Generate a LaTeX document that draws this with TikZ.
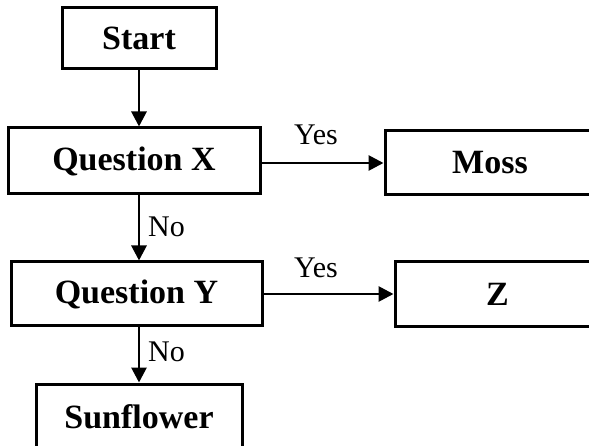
\documentclass[tikz,border=0pt]{standalone}
\usepackage{fontspec}
\setmainfont{Liberation Serif}
\usetikzlibrary{arrows.meta}
\begin{document}
\begin{tikzpicture}[x=1pt,y=-1pt,
  box/.style={draw, line width=3pt, rectangle, inner sep=0pt,
    font=\fontsize{34}{37}\selectfont\bfseries},
  arr/.style={line width=2.8pt, -{Triangle[length=15pt,width=15pt]}},
  lbl/.style={font=\fontsize{30}{33}\selectfont, inner sep=0pt}]
\useasboundingbox (0,0) rectangle (589,446);
\clip (0,0) rectangle (589,446);
\node[box, minimum width=154pt, minimum height=61pt] (start) at (139,38.5) {Start};
\node[box, minimum width=252pt, minimum height=66pt] (qx) at (134,161) {Question X};
\node[box, minimum width=210pt, minimum height=64pt] (moss) at (490,163) {Moss};
\node[box, minimum width=251pt, minimum height=64pt] (qy) at (136.5,294) {Question Y};
\node[box, minimum width=205pt, minimum height=65pt] (z) at (497.5,294.5) {Z};
\node[box, minimum width=206pt, minimum height=66pt] (sun) at (139,417) {Sunflower};
\draw[arr] (start.south) -- (start.south |- qx.north);
\draw[arr] (qx.south -| start.south) -- (start.south |- qy.north);
\draw[arr] (qy.south -| start.south) -- (start.south |- sun.north);
\draw[arr] (moss.west -| qx.east) -- (moss.west);
\draw[arr] (qy.east) -- (qy.east -| z.west);
\node[lbl] (yes1) at (316,135) {Yes};
\node[lbl] (yes2) at (316,268) {Yes};
\node[lbl, anchor=west] (no1) at (148,227) {No};
\node[lbl, anchor=west] (no2) at (148,352) {No};
\end{tikzpicture}
\end{document}
